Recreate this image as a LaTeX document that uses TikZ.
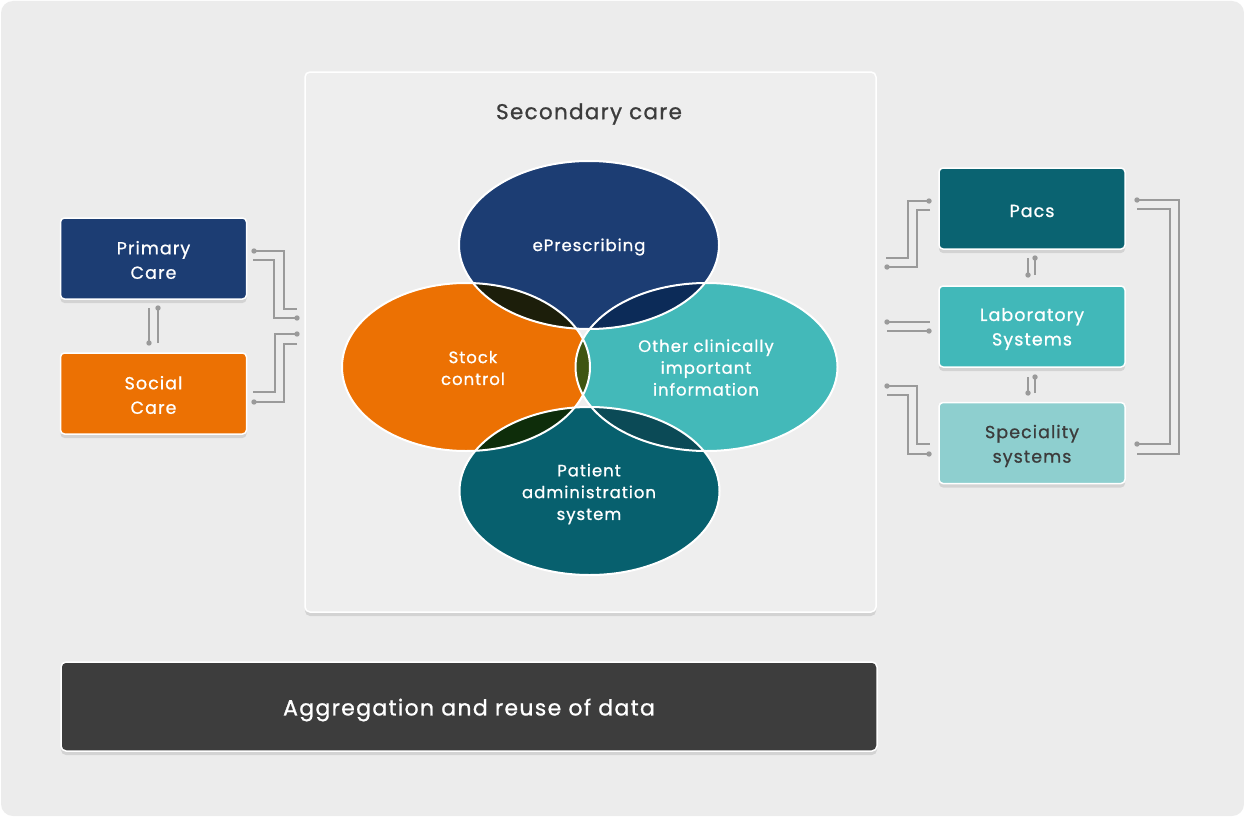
\documentclass[tikz,border=0pt]{standalone}
\usepackage{fontspec}
\setmainfont{Poppins}[FakeBold=0.9, LetterSpace=6]
\usetikzlibrary{shadows,shapes.geometric}
\definecolor{bg}{HTML}{ECECEC}
\definecolor{panelbg}{HTML}{EEEEEE}
\definecolor{navy}{HTML}{1C3D73}
\definecolor{orng}{HTML}{EC7103}
\definecolor{teal}{HTML}{43B9B9}
\definecolor{dteal}{HTML}{07606E}
\definecolor{pacs}{HTML}{0A6371}
\definecolor{lab}{HTML}{41B8B9}
\definecolor{spec}{HTML}{8ECFCF}
\definecolor{bar}{HTML}{3D3D3D}
\definecolor{wire}{HTML}{9A9A9A}
\definecolor{title}{HTML}{3C3C3C}
\definecolor{ovA}{HTML}{1C1E0A}
\definecolor{ovB}{HTML}{0C2B58}
\definecolor{ovC}{HTML}{3F5511}
\definecolor{ovD}{HTML}{0E2D0A}
\definecolor{ovE}{HTML}{0B4A56}
\tikzset{
  shad/.style={drop shadow={shadow xshift=0pt,shadow yshift=-4pt,opacity=0.10,fill=black}},
  sidebox/.style={shad, rounded corners=4pt, draw=white, line width=1.5pt,
    minimum width=186pt, minimum height=81pt, inner sep=0pt},
  boxtext/.style={text=white, align=center, inner sep=0pt, font=\fontsize{17.5}{24.5}\selectfont},
  blob/.style={ellipse, inner sep=0pt, minimum width=260pt, minimum height=168pt},
  blobtext/.style={text=white, align=center, inner sep=0pt, font=\fontsize{16.5}{21.8}\selectfont},
  wireln/.style={draw=wire, line width=1.6pt},
  outl/.style={draw=white, line width=2pt},
}
\newcommand{\wdot}[1]{\fill[wire] (#1) circle (2.7pt);}
\begin{document}
\begin{tikzpicture}[x=1pt,y=-1pt]
\useasboundingbox (0,0) rectangle (1244,816);
\fill[white] (0,0) rectangle (1244,816);
\fill[bg, rounded corners=12pt] (1,1) rectangle (1244,816);

% secondary care panel
\node[shad, draw=white, line width=1.5pt, fill=panelbg, rounded corners=5pt,
  minimum width=571pt, minimum height=540pt, inner sep=0pt] (sec) at (590.5,342) {};
\node[text=title, font=\fontsize{21.5}{25}\selectfont] (sectitle) at (589,114) {Secondary care};

% ellipses
\node[blob, fill=navy] (epr) at (589,245) {};
\node[blob, fill=orng, minimum width=248pt] (stock) at (466,367) {};
\node[blob, fill=teal, minimum width=262pt] (other) at (706.5,367) {};
\node[blob, fill=dteal] (pat) at (589.5,491) {};

% overlaps
\begin{scope}
  \clip (589,245) ellipse [x radius=130, y radius=84];
  \fill[ovA] (466,367) ellipse [x radius=124, y radius=84];
  \fill[ovB] (706.5,367) ellipse [x radius=131, y radius=84];
\end{scope}
\begin{scope}
  \clip (466,367) ellipse [x radius=124, y radius=84];
  \fill[ovC] (706.5,367) ellipse [x radius=131, y radius=84];
  \fill[ovD] (589.5,491) ellipse [x radius=130, y radius=84];
\end{scope}
\begin{scope}
  \clip (706.5,367) ellipse [x radius=131, y radius=84];
  \fill[ovE] (589.5,491) ellipse [x radius=130, y radius=84];
\end{scope}
\draw[outl] (589,245) ellipse [x radius=130, y radius=84];
\draw[outl] (466,367) ellipse [x radius=124, y radius=84];
\draw[outl] (706.5,367) ellipse [x radius=131, y radius=84];
\draw[outl] (589.5,491) ellipse [x radius=130, y radius=84];

\node[blobtext] (eprt) at (589,247) {ePrescribing};
\node[blobtext] (stockt) at (473,368) {Stock\\control};
\node[blobtext] (othert) at (706,367.5) {Other clinically\\important\\information};
\node[blobtext] (patt) at (589,494) {Patient\\administration\\system};

% left boxes
\node[sidebox, fill=navy] (prim) at (153.5,258.5) {};
\node[sidebox, fill=orng] (soc) at (153.5,393.5) {};
\node[boxtext] (primt) at (153.5,260) {Primary\\Care};
\node[boxtext] (soct) at (153.5,395) {Social\\Care};

% right boxes
\node[sidebox, fill=pacs] (pacsb) at (1032,208.5) {};
\node[sidebox, fill=lab] (labb) at (1032,326.5) {};
\node[sidebox, fill=spec] (specb) at (1032,443) {};
\node[boxtext] (pacst) at (1032,211) {Pacs};
\node[boxtext] (labt) at (1032,329) {Laboratory\\Systems};
\node[boxtext, text=title] (spect) at (1032,446) {Speciality\\systems};

% bottom bar
\node[shad, draw=white, line width=1.5pt, fill=bar, rounded corners=5pt, minimum width=816pt,
  minimum height=89pt, inner sep=0pt] (agg) at (469,706.5) {};
\node[text=white, inner sep=0pt, font=\fontsize{22}{25}\selectfont] (aggt) at (469,710) {Aggregation and reuse of data};

% left wires
\coordinate (a1) at (254,251); \coordinate (a2) at (297,309);
\coordinate (b1) at (253,260); \coordinate (b2) at (297,318);
\coordinate (c1) at (297,334); \coordinate (c2) at (253,392);
\coordinate (d1) at (297,344); \coordinate (d2) at (254,402);
\draw[wireln] (a1) -| (284,309) -- (a2); \wdot{a1}
\draw[wireln] (b1) -| (274,318) -- (b2); \wdot{b2}
\draw[wireln] (c1) -| (275,392) -- (c2); \wdot{c1}
\draw[wireln] (d1) -| (284,402) -- (d2); \wdot{d2}
% primary <-> social
\coordinate (ps1) at (149,308); \coordinate (ps2) at (149,343);
\coordinate (ps3) at (158,343); \coordinate (ps4) at (158,308);
\draw[wireln] (ps1) -- (ps2); \wdot{ps2}
\draw[wireln] (ps3) -- (ps4); \wdot{ps4}

% right wires
\coordinate (p1) at (929,201); \coordinate (p2) at (886,258);
\coordinate (q1) at (930,210); \coordinate (q2) at (887,267);
\draw[wireln] (p1) -| (908,258) -- (p2); \wdot{p1}
\draw[wireln] (q1) -| (917,267) -- (q2); \wdot{q2}
\coordinate (l1) at (887,322); \coordinate (l2) at (930,322);
\coordinate (m1) at (887,331); \coordinate (m2) at (929,331);
\draw[wireln] (l1) -- (l2); \wdot{l1}
\draw[wireln] (m1) -- (m2); \wdot{m2}
\coordinate (s1) at (887,386); \coordinate (s2) at (930,444);
\coordinate (t1) at (887,395); \coordinate (t2) at (929,454);
\draw[wireln] (s1) -| (917,444) -- (s2); \wdot{s1}
\draw[wireln] (t1) -| (908,454) -- (t2); \wdot{t2}
\coordinate (r1) at (1137,200); \coordinate (r2) at (1137,454);
\coordinate (u1) at (1137,209); \coordinate (u2) at (1137,444);
\draw[wireln] (r1) -| (1179,454) -- (r2); \wdot{r1}
\draw[wireln] (u1) -| (1170,444) -- (u2); \wdot{u2}
% vertical between right boxes
\coordinate (v1) at (1028,258); \coordinate (v2) at (1028,275);
\coordinate (v3) at (1035,275); \coordinate (v4) at (1035,258);
\draw[wireln] (v1) -- (v2); \wdot{v2}
\draw[wireln] (v3) -- (v4); \wdot{v4}
\coordinate (w1) at (1028,377); \coordinate (w2) at (1028,393);
\coordinate (w3) at (1035,393); \coordinate (w4) at (1035,377);
\draw[wireln] (w1) -- (w2); \wdot{w2}
\draw[wireln] (w3) -- (w4); \wdot{w4}
\end{tikzpicture}
\end{document}
